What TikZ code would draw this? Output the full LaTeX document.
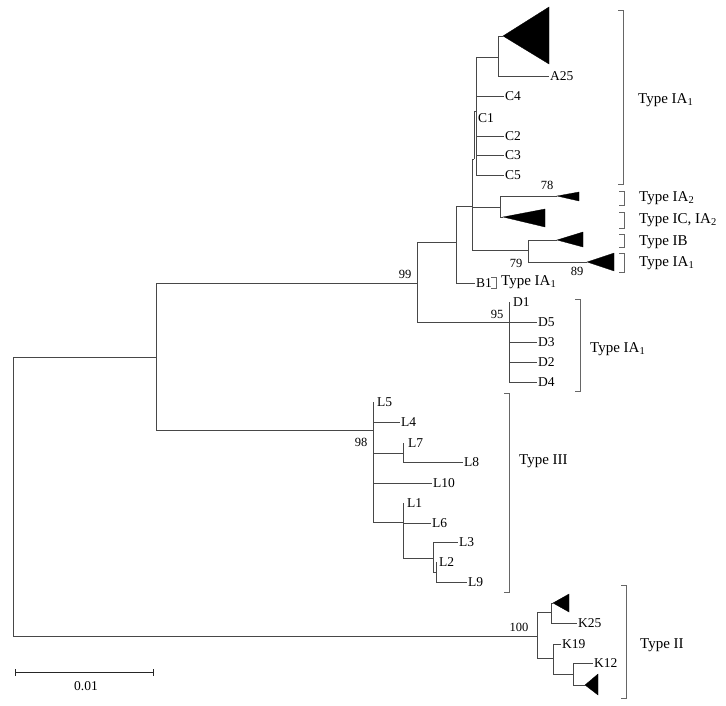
\documentclass[tikz,border=0pt]{standalone}
\usepackage{fontspec}
\setmainfont{Liberation Serif}
\newcommand\tsub[1]{\textsubscript{#1}}
\begin{document}
\begin{tikzpicture}[x=1pt,y=-1pt,
 br/.style={draw=black!72, line width=0.8pt},
 leaf/.style={anchor=west, inner sep=1pt, font=\fontsize{13.5}{15}\selectfont},
 boot/.style={inner sep=0pt, font=\fontsize{12.5}{14}\selectfont},
 typ/.style={anchor=west, inner sep=0pt, font=\fontsize{15}{17}\selectfont},
 clade/.style={fill=black, draw=black, line width=0.3pt, line join=miter},
 brk/.style={draw=black!60, line width=0.6pt}]
\useasboundingbox (0,0) rectangle (726,706);
% ---- internal nodes
\coordinate (R) at (13,496);
\coordinate (A) at (156,357);
\coordinate (N99) at (417,283);
\coordinate (N456) at (456,242);
\coordinate (Nc) at (472,206);
\coordinate (N2) at (474,159);
\coordinate (N3) at (476,111);
\coordinate (N4) at (498,57);
\coordinate (Nic) at (500,207);
\coordinate (Nib) at (528,250);
\coordinate (ND) at (509,322);
\coordinate (NL) at (373,430);
\coordinate (NL78) at (403,453);
\coordinate (NL16) at (403,522);
\coordinate (NL239) at (433,558);
\coordinate (NL29) at (436,572);
\coordinate (K) at (537,636);
\coordinate (NK1) at (551,612);
\coordinate (NK2) at (553,658);
\coordinate (NK3) at (573,674);
% ---- leaves / clade apices
\coordinate (T1) at (503,36);
\coordinate (A25) at (549,76);
\coordinate (C4) at (504,96);
\coordinate (C2) at (504,136);
\coordinate (C3) at (504,155);
\coordinate (C5) at (504,175);
\coordinate (T78) at (557,196);
\coordinate (Tic) at (503,217);
\coordinate (Tib) at (557,240);
\coordinate (T89) at (587,262);
\coordinate (B1) at (475,283);
\coordinate (D1) at (509,302);
\coordinate (D5) at (537,322);
\coordinate (D3) at (537,342);
\coordinate (D2) at (537,362);
\coordinate (D4) at (537,382);
\coordinate (L5) at (373,402);
\coordinate (L4) at (400,422);
\coordinate (L7) at (403,443);
\coordinate (L8) at (463,462);
\coordinate (L10) at (432,483);
\coordinate (L1) at (403,503);
\coordinate (L6) at (431,523);
\coordinate (L3) at (458,542);
\coordinate (L2) at (436,562);
\coordinate (L9) at (467,582);
\coordinate (Tk1) at (553,603);
\coordinate (K25) at (577,623);
\coordinate (K19) at (561,644);
\coordinate (K12) at (593,663);
\coordinate (Tk2) at (585,685);
% ---- branches
\draw[br] (R) |- (A) (R) |- (K)
 (A) |- (N99) (A) |- (NL)
 (N99) |- (N456) (N99) |- (ND)
 (N456) |- (Nc) (N456) |- (B1)
 (Nc) |- (N2) (Nc) |- (Nic) (Nc) |- (Nib)
 (N2) |- (N3)
 (N3) |- (N4) (N3) |- (C4) (N3) |- (C2) (N3) |- (C3) (N3) |- (C5)
 (N4) |- (T1) (N4) |- (A25)
 (Nic) |- (T78) (Nic) |- (Tic)
 (Nib) |- (Tib) (Nib) |- (T89)
 (ND) |- (D1) (ND) |- (D5) (ND) |- (D3) (ND) |- (D2) (ND) |- (D4)
 (NL) |- (L5) (NL) |- (L4) (NL) |- (NL78) (NL) |- (L10) (NL) |- (NL16)
 (NL78) |- (L7) (NL78) |- (L8)
 (NL16) |- (L1) (NL16) |- (L6) (NL16) |- (NL239)
 (NL239) |- (L3) (NL239) |- (NL29)
 (NL29) |- (L2) (NL29) |- (L9)
 (K) |- (NK1) (K) |- (NK2)
 (NK1) |- (Tk1) (NK1) |- (K25)
 (NK2) |- (K19) (NK2) |- (NK3)
 (NK3) |- (K12) (NK3) |- (Tk2);
% ---- collapsed clades
\filldraw[clade] (T1) -- (549,7) -- (549,64) -- cycle;
\filldraw[clade] (T78) -- (579,192) -- (579,201) -- cycle;
\filldraw[clade] (Tic) -- (545,209) -- (545,227) -- cycle;
\filldraw[clade] (Tib) -- (583,232) -- (583,247) -- cycle;
\filldraw[clade] (T89) -- (614,253) -- (614,271) -- cycle;
\filldraw[clade] (Tk1) -- (569,594) -- (569,612) -- cycle;
\filldraw[clade] (Tk2) -- (598,674) -- (598,695) -- cycle;
% ---- leaf labels
\node[leaf] (lA25) at (A25) {A25};
\node[leaf] (lC4) at (C4) {C4};
\node[leaf] (lC1) at (477,118) {C1};
\node[leaf] (lC2) at (C2) {C2};
\node[leaf] (lC3) at (C3) {C3};
\node[leaf] (lC5) at (C5) {C5};
\node[leaf] (lB1) at (B1) {B1};
\node[leaf] (lD1) at ([xshift=3pt]D1) {D1};
\node[leaf] (lD5) at (D5) {D5};
\node[leaf] (lD3) at (D3) {D3};
\node[leaf] (lD2) at (D2) {D2};
\node[leaf] (lD4) at (D4) {D4};
\node[leaf] (lL5) at ([xshift=3pt]L5) {L5};
\node[leaf] (lL4) at (L4) {L4};
\node[leaf] (lL7) at ([xshift=4pt]L7) {L7};
\node[leaf] (lL8) at (L8) {L8};
\node[leaf] (lL10) at (L10) {L10};
\node[leaf] (lL1) at ([xshift=3pt]L1) {L1};
\node[leaf] (lL6) at (L6) {L6};
\node[leaf] (lL3) at (L3) {L3};
\node[leaf] (lL2) at ([xshift=2pt]L2) {L2};
\node[leaf] (lL9) at (L9) {L9};
\node[leaf] (lK25) at (K25) {K25};
\node[leaf] (lK19) at (K19) {K19};
\node[leaf] (lK12) at (K12) {K12};
% ---- bootstrap values
\node[boot] (b78) at (547,185) {78};
\node[boot] (b79) at (516,263) {79};
\node[boot] (b89) at (577,271) {89};
\node[boot] (b99) at (405,274) {99};
\node[boot] (b95) at (497,314) {95};
\node[boot] (b98) at (361,442) {98};
\node[boot] (b100) at (519,627) {100};
% ---- brackets
\draw[brk] (618,10) -- (623,10) -- (623,184) -- (618,184);
\draw[brk] (619,191) -- (624,191) -- (624,205) -- (619,205);
\draw[brk] (619,212) -- (624,212) -- (624,228) -- (619,228);
\draw[brk] (619,234) -- (624,234) -- (624,247) -- (619,247);
\draw[brk] (619,253) -- (624,253) -- (624,272) -- (619,272);
\draw[brk] (491,277) -- (496,277) -- (496,288) -- (491,288);
\draw[brk] (575,299) -- (580,299) -- (580,391) -- (575,391);
\draw[brk] (504,393) -- (509,393) -- (509,592) -- (504,592);
\draw[brk] (621,585) -- (626,585) -- (626,698) -- (621,698);
% ---- type labels
\node[typ] (t1) at (638,100) {Type IA\tsub{1}};
\node[typ] (t2) at (639,198) {Type IA\tsub{2}};
\node[typ] (t3) at (639,220) {Type IC, IA\tsub{2}};
\node[typ] (t4) at (639,242) {Type IB};
\node[typ] (t5) at (639,263) {Type IA\tsub{1}};
\node[typ] (t6) at (501,282) {Type IA\tsub{1}};
\node[typ] (t7) at (590,349) {Type IA\tsub{1}};
\node[typ] (t8) at (519,461) {Type III};
\node[typ] (t9) at (640,645) {Type II};
% ---- scale bar
\coordinate (s0) at (15,672);
\coordinate (s1) at (153,672);
\draw[draw=black!85, line width=0.8pt] (s0) -- (s1)
  ([yshift=-3.5pt]s0) -- ([yshift=3.5pt]s0)
  ([yshift=-3.5pt]s1) -- ([yshift=3.5pt]s1);
\node[boot, font=\fontsize{13.5}{15}\selectfont] (sl) at (86,686) {0.01};
\end{tikzpicture}
\end{document}
